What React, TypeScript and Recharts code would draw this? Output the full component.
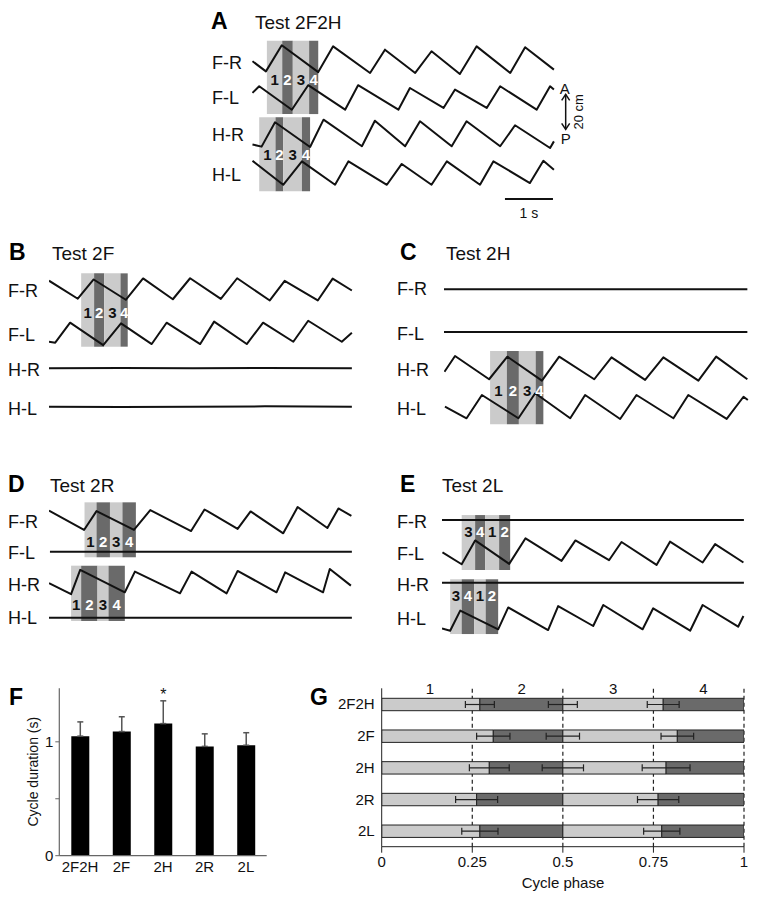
import React from 'react';
import {
  LineChart, Line, XAxis, YAxis, ReferenceArea, ReferenceLine,
  BarChart, Bar, ErrorBar, LabelList,
} from 'recharts';

type Pt = [number, number]; // [time (s), A-P position (cm)]

// ---------- Panel A : Test 2F2H ----------
const A_FR: Pt[] = [[0.01,-0.7],[0.29,-6.5],[0.62,8.4],[1.38,-6.9],[1.69,7.8],[2.46,-7.4],[2.77,5.9],[3.40,-7.4],[3.74,5.0],[4.33,-8.0],[4.68,7.8],[5.38,-7.4],[5.69,7.3],[6.29,-5.5]];
const A_FL: Pt[] = [[0.01,2.6],[0.15,6.4],[0.83,-7.0],[1.17,7.0],[1.94,-7.0],[2.21,7.0],[3.05,-7.0],[3.29,5.4],[3.99,-6.0],[4.23,4.5],[4.89,-6.0],[5.17,6.4],[5.93,-7.0],[6.21,6.4],[6.29,4.5]];
const A_HR: Pt[] = [[0.01,-6.0],[0.2,-7.2],[0.48,6.7],[1.21,-7.4],[1.49,8.2],[2.29,-7.0],[2.56,7.6],[3.19,-7.0],[3.50,7.3],[4.16,-7.0],[4.47,7.3],[5.17,-7.0],[5.48,5.0],[6.21,-8.0],[6.29,-4.2]];
const A_HL: Pt[] = [[0.01,6.7],[0.65,-7.0],[1.04,6.4],[1.73,-7.0],[2.01,6.4],[2.81,-7.0],[3.12,4.9],[3.74,-7.0],[4.06,6.4],[4.75,-7.0],[5.03,6.4],[5.79,-6.0],[6.07,6.7],[6.29,1.6]];

// ---------- Panel B : Test 2F ----------
const B_FR: Pt[] = [[0,4.7],[0.60,-5.6],[0.93,5.4],[1.60,-6.2],[1.96,6.0],[2.58,-5.9],[2.94,6.1],[3.58,-5.7],[3.92,6.1],[4.60,-6.6],[4.91,4.6],[5.60,-6.6],[5.91,5.9],[6.31,-0.9]];
const B_FL: Pt[] = [[0,-5.0],[0.13,-5.5],[0.44,5.9],[1.13,-6.9],[1.50,5.5],[2.14,-6.3],[2.45,5.9],[3.15,-6.3],[3.44,6.5],[4.12,-6.3],[4.46,5.9],[5.09,-5.0],[5.40,7.0],[6.10,-5.0],[6.31,0.2]];
const B_HR: Pt[] = [[0,0],[1.5,0.2],[3,0],[4.5,0.2],[6.31,0]];
const B_HL: Pt[] = [[0,0],[1.5,-0.2],[3,0],[4.5,0.2],[6.31,0]];

// ---------- Panel C : Test 2H ----------
const C_FR: Pt[] = [[0,0],[6.32,0]];
const C_FL: Pt[] = [[0,0],[6.32,0]];
const C_HR: Pt[] = [[0.01,-2.0],[0.23,7.0],[0.94,-6.3],[1.32,6.6],[2.04,-7.1],[2.40,6.6],[3.13,-6.3],[3.49,6.2],[4.19,-6.7],[4.57,6.2],[5.30,-7.1],[5.67,6.6],[6.32,-6.3]];
const C_HL: Pt[] = [[0.02,0],[0.47,-6.6],[0.79,6.7],[1.55,-6.6],[1.90,7.7],[2.63,-6.6],[2.94,6.7],[3.67,-7.0],[4.01,6.7],[4.78,-6.6],[5.09,6.7],[5.89,-7.0],[6.24,5.7],[6.33,3.8]];

// ---------- Panel D : Test 2R ----------
const D_FR: Pt[] = [[0,5.4],[0.73,-5.7],[0.99,5.1],[1.77,-5.7],[2.11,5.7],[2.96,-6.3],[3.24,6.0],[3.31,4.9],[3.93,-5.1],[4.20,4.9],[4.88,-7.6],[5.18,7.4],[5.80,-4.6],[6.03,6.6],[6.30,2.3]];
const D_FL: Pt[] = [[0.02,0],[6.31,0]];
const D_HR: Pt[] = [[0,-0.7],[0.46,-7.0],[0.65,6.9],[1.58,-5.9],[1.79,5.9],[2.73,-6.5],[2.97,5.9],[3.70,-6.5],[3.93,6.3],[4.74,-5.9],[4.92,5.5],[5.71,-5.9],[5.85,7.4],[6.29,-2.1]];
const D_HL: Pt[] = [[0,0],[6.31,0]];

// ---------- Panel E : Test 2L ----------
const E_FR: Pt[] = [[0,0],[6.29,0]];
const E_FL: Pt[] = [[0.01,-0.5],[0.41,-7.3],[0.69,6.3],[1.40,-7.1],[1.74,7.5],[2.49,-5.4],[2.78,6.3],[3.48,-5.0],[3.74,5.4],[4.47,-7.7],[4.75,5.6],[5.43,-6.3],[5.69,4.2],[6.28,-6.3]];
const E_HR: Pt[] = [[0,0],[6.29,0]];
const E_HL: Pt[] = [[0,-6.1],[0.17,-7.4],[0.38,4.1],[1.17,-6.6],[1.38,5.9],[2.21,-7.0],[2.42,6.7],[3.15,-4.7],[3.36,7.3],[4.18,-6.6],[4.40,5.4],[5.17,-7.4],[5.43,7.3],[6.17,-5.1],[6.28,1.0]];

// ---------- phase boxes (phase boundary times, s) ----------
const PH_A_FORE = [0.31, 0.63, 0.85, 1.19, 1.38];
const PH_A_HIND = [0.15, 0.49, 0.65, 1.04, 1.21];
const PH_B_FORE = [0.67, 0.94, 1.15, 1.49, 1.64];
const PH_C_HIND = [0.96, 1.31, 1.56, 1.91, 2.07];
const PH_D_FORE = [0.74, 0.99, 1.27, 1.53, 1.81];
const PH_D_HIND = [0.46, 0.67, 1.01, 1.24, 1.58];
const PH_E_FORE = [0.41, 0.69, 0.90, 1.19, 1.42];
const PH_E_HIND = [0.17, 0.41, 0.67, 0.91, 1.17];
const LABELS_1234 = ['1', '2', '3', '4'];
const LABELS_3412 = ['3', '4', '1', '2'];

// ---------- Panel F ----------
const F_CATS = ['2F2H', '2F', '2H', '2R', '2L'];
const F_MEAN = [1.05, 1.09, 1.16, 0.96, 0.97];
const F_SD = [0.125, 0.13, 0.2, 0.11, 0.11];
const F_SIG = ['', '', '*', '', ''];
const F_TICKS = [0, 0.5, 1];

// ---------- Panel G ----------
const G_CATS = ['2F2H', '2F', '2H', '2R', '2L'];
const G_P1_END = [0.271, 0.308, 0.297, 0.262, 0.271];
const G_P2_END = [0.5, 0.5, 0.5, 0.5, 0.5];
const G_P3_END = [0.777, 0.816, 0.785, 0.763, 0.773];
const G_P1_SD = [0.04, 0.046, 0.055, 0.058, 0.05];
const G_P2_SD: (number | null)[] = [0.04, 0.046, 0.057, null, null];
const G_P3_SD = [0.044, 0.045, 0.066, 0.057, 0.05];
const G_TICKS = [0, 0.25, 0.5, 0.75, 1];
const G_DASHES = [0.25, 0.5, 0.75, 1];
const G_PHASE_NAMES = ['1', '2', '3', '4'];
const G_PHASE_POS = [0.133, 0.386, 0.639, 0.888];

// ---------- styling / layout ----------
const LIGHT = '#cbcbcb';
const DARK = '#6a6a6a';
const INK = '#111';
const PX_PER_S = 48;
const PX_PER_CM = 1.75;
const FONT = '"Liberation Sans", Arial, Helvetica, sans-serif';

type Box = { phases: number[]; lo: number; hi: number; labels: string[]; labelOffset: number };

function TracePanel(props: {
  left: number; top: number; height: number; refBottom: number; tMax: number;
  lanes: number[]; traces: Pt[][]; boxes: Box[]; children?: React.ReactNode;
}) {
  const { left, top, height, refBottom, tMax, lanes, traces, boxes, children } = props;
  const width = tMax * PX_PER_S;
  const yMax = (refBottom - top) / PX_PER_CM;
  const yMin = (refBottom - top - height) / PX_PER_CM;
  return (
    <div style={{ position: 'absolute', left, top, width, height }}>
      <LineChart width={width} height={height} margin={{ top: 0, right: 0, bottom: 0, left: 0 }}>
        <XAxis type="number" dataKey="t" domain={[0, tMax]} hide allowDataOverflow />
        <YAxis type="number" domain={[yMin, yMax]} hide allowDataOverflow />
        {boxes.map((b, bi) =>
          b.labels.map((lab, k) => (
            <ReferenceArea
              key={`box-${bi}-${k}`}
              x1={b.phases[k]}
              x2={b.phases[k + 1]}
              y1={b.lo}
              y2={b.hi}
              fill={k % 2 === 0 ? LIGHT : DARK}
              fillOpacity={1}
              stroke="none"
              label={{
                value: lab,
                position: 'insideBottom',
                offset: b.labelOffset,
                fill: k % 2 === 0 ? INK : '#ffffff',
                fontSize: 15,
                fontWeight: 700,
              }}
            />
          )),
        )}
        {traces.map((tr, i) => (
          <Line
            key={`tr-${i}`}
            data={tr.map(([t, d]) => ({ t, v: lanes[i] + d }))}
            dataKey="v"
            type="linear"
            stroke={INK}
            strokeWidth={2}
            strokeLinejoin="round"
            dot={false}
            activeDot={false}
            isAnimationActive={false}
          />
        ))}
        {children}
      </LineChart>
    </div>
  );
}

const ScaleArrow = (p: any) => {
  const x = p.x1;
  const yT = Math.min(p.y1, p.y2);
  const yB = Math.max(p.y1, p.y2);
  const mid = (yT + yB) / 2;
  return (
    <g>
      <line x1={x} y1={yT} x2={x} y2={yB} stroke={INK} strokeWidth={1.5} />
      <polyline points={`${x - 4},${yT + 6} ${x},${yT} ${x + 4},${yT + 6}`} fill="none" stroke={INK} strokeWidth={1.5} />
      <polyline points={`${x - 4},${yB - 6} ${x},${yB} ${x + 4},${yB - 6}`} fill="none" stroke={INK} strokeWidth={1.5} />
      <text x={x - 1} y={yT} textAnchor="middle" fontSize={15} fill={INK}>A</text>
      <text x={x} y={yB + 14.5} textAnchor="middle" fontSize={15} fill={INK}>P</text>
      <text transform={`translate(${x + 12.5},${mid}) rotate(-90)`} textAnchor="middle" dominantBaseline="central" fontSize={13} fill={INK}>20 cm</text>
    </g>
  );
};

const rowLabels = ['F-R', 'F-L', 'H-R', 'H-L'];

export default function App() {
  const fData = F_CATS.map((c, i) => ({ cat: c, mean: F_MEAN[i], err: [0, F_SD[i]], sig: F_SIG[i] }));
  const gData = G_CATS.map((c, i) => ({
    cat: c,
    s1: G_P1_END[i],
    s2: G_P2_END[i] - G_P1_END[i],
    s3: G_P3_END[i] - G_P2_END[i],
    s4: 1 - G_P3_END[i],
    e1: G_P1_SD[i],
    e2: G_P2_SD[i],
    e3: G_P3_SD[i],
  }));

  const rowPos: { x: number; ys: number[] }[] = [
    { x: 212, ys: [63, 98, 135, 175] },
    { x: 8, ys: [290.7, 335, 370, 409] },
    { x: 397, ys: [289.3, 334, 370, 409] },
    { x: 8, ys: [521.7, 552.7, 585, 618.3] },
    { x: 397, ys: [521.7, 554, 585, 619.3] },
  ];
  const titles = [
    { l: 'A', lx: 211, t: 'Test 2F2H', tx: 255, y: 28.5 },
    { l: 'B', lx: 9, t: 'Test 2F', tx: 52, y: 260 },
    { l: 'C', lx: 400, t: 'Test 2H', tx: 446, y: 260 },
    { l: 'D', lx: 8, t: 'Test 2R', tx: 50, y: 492 },
    { l: 'E', lx: 400, t: 'Test 2L', tx: 442, y: 492 },
  ];

  return (
    <div style={{ position: 'absolute', left: 0, top: 0, width: 757, height: 900, background: '#fff', fontFamily: FONT, overflow: 'hidden' }}>
      {/* A */}
      <TracePanel
        left={252} top={28} height={192} refBottom={200} tMax={7}
        lanes={[80, 58.6, 37.7, 15.7]}
        traces={[A_FR, A_FL, A_HR, A_HL]}
        boxes={[
          { phases: PH_A_FORE, lo: 49.1, hi: 91.0, labels: LABELS_1234, labelOffset: 29 },
          { phases: PH_A_HIND, lo: 5.0, hi: 47.3, labels: LABELS_1234, labelOffset: 31.5 },
        ]}
      >
        <ReferenceLine segment={[{ x: 6.535, y: 40.4 }, { x: 6.535, y: 60.4 }]} shape={ScaleArrow} ifOverflow="visible" />
        <ReferenceLine
          segment={[{ x: 5.27, y: 0.57 }, { x: 6.27, y: 0.57 }]}
          stroke={INK}
          strokeWidth={2}
          ifOverflow="visible"
          label={{ value: '1 s', position: 'bottom', offset: 9, fill: INK, fontSize: 14 }}
        />
      </TracePanel>

      {/* B */}
      <TracePanel
        left={49} top={265} height={160} refBottom={420} tMax={6.4}
        lanes={[74.9, 49.7, 29.5, 7.6]}
        traces={[B_FR, B_FL, B_HR, B_HL]}
        boxes={[{ phases: PH_B_FORE, lo: 41.9, hi: 83.8, labels: LABELS_1234, labelOffset: 28.4 }]}
      />

      {/* C */}
      <TracePanel
        left={444} top={265} height={170} refBottom={430} tMax={6.4}
        lanes={[80.4, 56, 35.3, 13.3]}
        traces={[C_FR, C_FL, C_HR, C_HL]}
        boxes={[{ phases: PH_C_HIND, lo: 3.3, hi: 45.1, labels: LABELS_1234, labelOffset: 28.3 }]}
      />

      {/* D */}
      <TracePanel
        left={49} top={495} height={135} refBottom={625} tMax={6.4}
        lanes={[60, 41.9, 24.6, 4.2]}
        traces={[D_FR, D_FL, D_HR, D_HL]}
        boxes={[
          { phases: PH_D_FORE, lo: 38.7, hi: 70.1, labels: LABELS_1234, labelOffset: 10.6 },
          { phases: PH_D_HIND, lo: 2.3, hi: 33.9, labels: LABELS_1234, labelOffset: 11 },
        ]}
      />

      {/* E */}
      <TracePanel
        left={442} top={505} height={140} refBottom={640} tMax={6.4}
        lanes={[68.6, 50.6, 32.7, 12.7]}
        traces={[E_FR, E_FL, E_HR, E_HL]}
        boxes={[
          { phases: PH_E_FORE, lo: 40, hi: 71.4, labels: LABELS_3412, labelOffset: 32.7 },
          { phases: PH_E_HIND, lo: 3.4, hi: 34.7, labels: LABELS_3412, labelOffset: 33.5 },
        ]}
      />

      {/* F */}
      <div style={{ position: 'absolute', left: 0, top: 680 }}>
        <BarChart width={280} height={210} data={fData} margin={{ top: 8.3, right: 13.3, bottom: 4.3, left: 19.3 }} barSize={18}>
          <XAxis
            dataKey="cat" type="category" height={30} interval={0}
            tickLine={false} tickSize={0} tickMargin={6}
            axisLine={{ stroke: '#666', strokeWidth: 1.2 }}
            tick={{ fill: INK, fontSize: 15 }}
          />
          <YAxis
            type="number" domain={[0, 1.47]} ticks={F_TICKS} allowDataOverflow width={40}
            tickFormatter={(v: number) => (v === 0.5 ? '' : String(v))}
            tickSize={4} tickMargin={2}
            axisLine={{ stroke: '#666', strokeWidth: 1.2 }}
            tickLine={{ stroke: '#666' }}
            tick={{ fill: INK, fontSize: 15 }}
          />
          <Bar dataKey="mean" fill="#000" isAnimationActive={false}>
            <ErrorBar dataKey="err" width={3} stroke="#555" strokeWidth={1.5} direction="y" />
            <LabelList dataKey="sig" position="top" offset={24} fill={INK} fontSize={16} />
          </Bar>
        </BarChart>
      </div>

      {/* G */}
      <div style={{ position: 'absolute', left: 300, top: 670 }}>
        <BarChart layout="vertical" width={457} height={230} data={gData} margin={{ top: 18.3, right: 13, bottom: 23.3, left: 31.7 }} barSize={12.4}>
          <XAxis
            type="number" domain={[0, 1]} ticks={G_TICKS} allowDataOverflow height={30}
            tickSize={6} tickMargin={4}
            axisLine={{ stroke: '#222' }} tickLine={{ stroke: '#222' }}
            tick={{ fill: INK, fontSize: 15 }}
          />
          <YAxis
            type="category" dataKey="cat" width={50}
            tickLine={false} tickSize={0} tickMargin={7}
            axisLine={{ stroke: '#222' }}
            tick={{ fill: INK, fontSize: 15 }}
          />
          {G_DASHES.map((x) => (
            <ReferenceLine key={`d-${x}`} x={x} stroke="#222" strokeWidth={1.2} strokeDasharray="4 3" zIndex={-1} />
          ))}
          {G_PHASE_POS.map((x, i) => (
            <ReferenceLine
              key={`p-${i}`} x={x} stroke="none"
              label={{ value: G_PHASE_NAMES[i], position: 'top', offset: -5.4, fill: INK, fontSize: 15 }}
            />
          ))}
          <Bar dataKey="s1" stackId="g" fill={LIGHT} stroke="#222" strokeWidth={1} isAnimationActive={false} />
          <Bar dataKey="s2" stackId="g" fill={DARK} stroke="#222" strokeWidth={1} isAnimationActive={false} />
          <Bar dataKey="s3" stackId="g" fill={LIGHT} stroke="#222" strokeWidth={1} isAnimationActive={false} />
          <Bar dataKey="s4" stackId="g" fill={DARK} stroke="#222" strokeWidth={1} isAnimationActive={false} />
        </BarChart>
      </div>
      {/* G error bars (overlay, same scales) */}
      <div style={{ position: 'absolute', left: 300, top: 670 }}>
        <BarChart layout="vertical" width={457} height={230} data={gData} margin={{ top: 18.3, right: 13, bottom: 53.3, left: 81.7 }} barSize={12.4}>
          <XAxis type="number" domain={[0, 1]} allowDataOverflow hide />
          <YAxis type="category" dataKey="cat" hide />
          <Bar dataKey="s1" stackId="e" fill="none" stroke="none" isAnimationActive={false}>
            <ErrorBar dataKey="e1" width={3.5} stroke="#222" strokeWidth={1.2} direction="x" />
          </Bar>
          <Bar dataKey="s2" stackId="e" fill="none" stroke="none" isAnimationActive={false}>
            <ErrorBar dataKey="e2" width={3.5} stroke="#222" strokeWidth={1.2} direction="x" />
          </Bar>
          <Bar dataKey="s3" stackId="e" fill="none" stroke="none" isAnimationActive={false}>
            <ErrorBar dataKey="e3" width={3.5} stroke="#222" strokeWidth={1.2} direction="x" />
          </Bar>
        </BarChart>
      </div>

      {/* text overlay */}
      <svg width={757} height={900} style={{ position: 'absolute', left: 0, top: 0, pointerEvents: 'none' }}>
        {titles.map((t) => (
          <g key={t.l}>
            <text x={t.lx} y={t.y} fontSize={23} fontWeight={700} fill="#000">{t.l}</text>
            <text x={t.tx} y={t.y} fontSize={19} fill={INK}>{t.t}</text>
          </g>
        ))}
        {rowPos.map((r, pi) =>
          r.ys.map((y, k) => (
            <text key={`rl-${pi}-${k}`} x={r.x} y={y} fontSize={18} fill={INK} dominantBaseline="central">{rowLabels[k]}</text>
          )),
        )}
        <text x={9} y={705} fontSize={23} fontWeight={700} fill="#000">F</text>
        <text x={310} y={705} fontSize={23} fontWeight={700} fill="#000">G</text>
        <text transform="translate(33,771.7) rotate(-90)" textAnchor="middle" dominantBaseline="central" fontSize={14} fill={INK}>Cycle duration (s)</text>
        <text x={563} y={882} textAnchor="middle" dominantBaseline="central" fontSize={15} fill={INK}>Cycle phase</text>
      </svg>
    </div>
  );
}
